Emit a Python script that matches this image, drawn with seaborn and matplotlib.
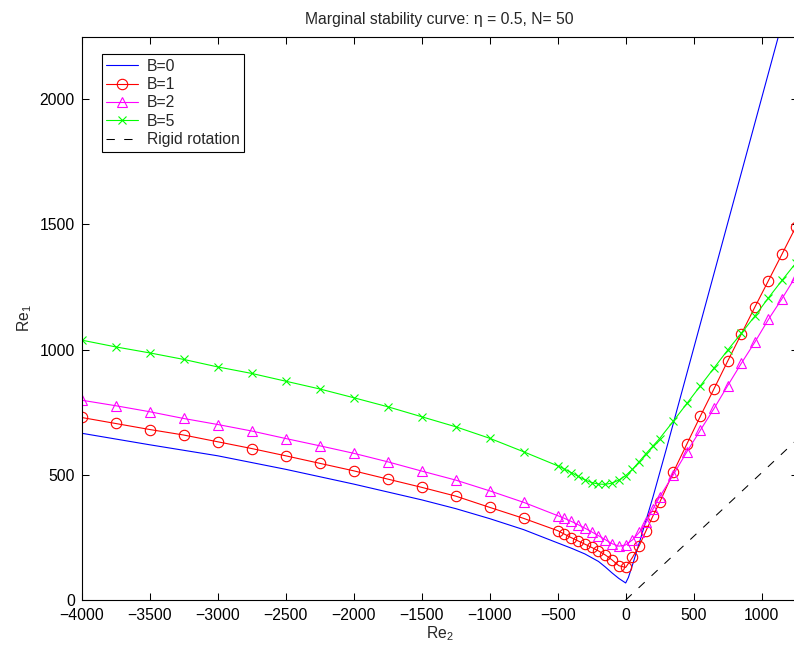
import matplotlib
matplotlib.use('Agg')
import matplotlib.pyplot as plt
import seaborn as sns

# marker positions shared by the B=1, B=2, B=5 curves
re2_marks = [-4000, -3750, -3500, -3250, -3000, -2750, -2500, -2250, -2000, -1750,
             -1500, -1250, -1000, -750, -500, -450, -400, -350, -300, -250, -200,
             -150, -100, -50, 0, 50, 100, 150, 200, 250, 350, 450, 550, 650, 750,
             850, 950, 1050, 1150, 1250]

re1_b1 = [729, 705, 681, 659, 632, 605, 576, 546, 516, 483,
          450, 415, 370, 326, 277, 263, 249, 236, 223, 210, 196,
          180, 160, 137, 130, 170, 217, 277, 335, 390, 510, 623, 735, 844, 954,
          1062, 1170, 1276, 1382, 1489]

re1_b2 = [798, 776, 752, 725, 701, 675, 645, 616, 586, 552,
          515, 479, 436, 390, 337, 326, 314, 301, 287, 272, 257,
          241, 225, 215, 220, 240, 270, 310, 362, 412, 500, 592, 679, 765, 856,
          945, 1030, 1121, 1204, 1292]

re1_b5 = [1038, 1011, 987, 961, 931, 905, 874, 843, 808, 772,
          732, 692, 646, 592, 536, 523, 509, 494, 480, 469, 463,
          462, 467, 479, 497, 522, 553, 585, 615, 645, 714, 785, 856, 927, 998,
          1065, 1134, 1207, 1277, 1345]

# B=0 is a plain line
re2_b0 = [-4000, -3500, -3000, -2500, -2000, -1500, -1250, -1000, -750, -500,
          -400, -300, -200, -150, -100, -50, -25, 0, 20, 50, 100, 200, 300,
          600, 1000, 1250]
re1_b0 = [666, 620, 576, 522, 463, 400, 365, 325, 281, 228,
          207, 184, 154, 132, 108, 86, 77, 68, 90, 140, 228, 410, 605,
          1205, 2005, 2505]

# rigid rotation line
re2_rigid = [0, 1265]
re1_rigid = [0, 643]

sns.set_style('ticks')
plt.rcParams['font.family'] = ['Liberation Sans', 'DejaVu Sans']
plt.rcParams['mathtext.fontset'] = 'custom'
plt.rcParams['mathtext.rm'] = 'Liberation Sans'
plt.rcParams['mathtext.it'] = 'Liberation Sans:italic'

fs = 11.3
fig = plt.figure(figsize=(7.94, 6.5), dpi=100)
# right spine sits just outside the picture, as in the reference
ax = fig.add_axes([81.7 / 794, 50 / 650, 716 / 794, 563.3 / 650])

lw = 0.8
sns.lineplot(x=re2_b0, y=re1_b0, ax=ax, color='#0000ff', lw=lw, label='B=0')
sns.lineplot(x=re2_marks, y=re1_b1, ax=ax, color='#ff0000', lw=lw, marker='o',
             markersize=7.5, markerfacecolor='none', markeredgecolor='#ff0000',
             markeredgewidth=0.8, label='B=1')
sns.lineplot(x=re2_marks, y=re1_b2, ax=ax, color='#ff00ff', lw=lw, marker='^',
             markersize=7.5, markerfacecolor='none', markeredgecolor='#ff00ff',
             markeredgewidth=0.8, label='B=2')
sns.lineplot(x=re2_marks, y=re1_b5, ax=ax, color='#00ff00', lw=lw, marker='x',
             markersize=5.5, markeredgecolor='#00ff00', markeredgewidth=0.8,
             label='B=5')
sns.lineplot(x=re2_rigid, y=re1_rigid, ax=ax, color='black', lw=0.75,
             linestyle=(0, (8, 9)), label='Rigid rotation')

ax.set_xlim(-4000, 1265)
ax.set_ylim(0, 2250)
ax.set_xticks(range(-4000, 1001, 500))
ax.set_yticks(range(0, 2001, 500))
ax.tick_params(direction='in', length=5, width=0.75, top=True, right=True,
               labelsize=fs, colors='black')
ax.tick_params(axis='x', pad=6)
ax.tick_params(axis='y', pad=5)
for s in ax.spines.values():
    s.set_linewidth(0.8)
    s.set_color('black')

ax.set_xlabel('Re$_2$', fontsize=fs, labelpad=1)
ax.set_ylabel('Re$_1$', fontsize=fs, labelpad=4)
ax.set_title('Marginal stability curve: \u03b7 = 0.5, N= 50', fontsize=fs, pad=9)

leg = ax.legend(loc='upper left', bbox_to_anchor=(0.028, 0.969), borderaxespad=0,
                fontsize=fs, fancybox=False, framealpha=1, edgecolor='black',
                labelspacing=0.22, handlelength=2.0, handletextpad=0.6,
                borderpad=0.28)
leg.get_frame().set_linewidth(0.8)

fig.savefig('out.png', dpi=100)
